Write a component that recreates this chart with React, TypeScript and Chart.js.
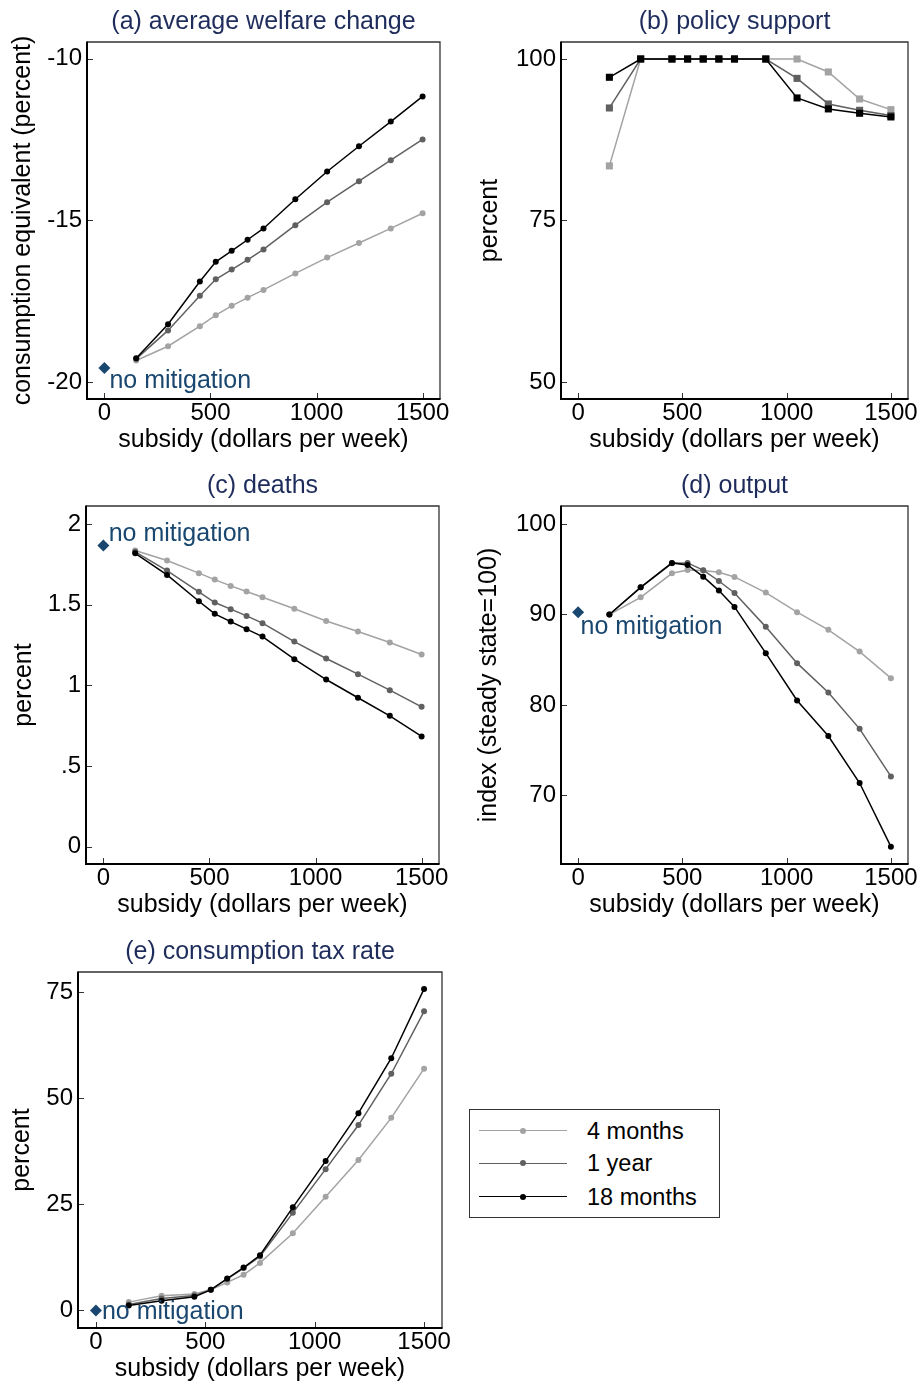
import React, { useEffect, useRef } from "react";
import { Chart, registerables } from "chart.js";

Chart.register(...registerables);

// ---------------- data ----------------
const SUBSIDY = [150, 300, 450, 525, 600, 675, 750, 900, 1050, 1200, 1350, 1500];
const X_TICKS = [0, 500, 1000, 1500];
const SERIES_LABELS = ["4 months", "1 year", "18 months"];
const NO_MIT_X = 0;
const NO_MIT_LABEL = "no mitigation";

const WELFARE_4M = [-19.33, -18.89, -18.27, -17.93, -17.64, -17.39, -17.15, -16.64, -16.15, -15.7, -15.25, -14.78];
const WELFARE_1Y = [-19.28, -18.4, -17.33, -16.82, -16.52, -16.22, -15.9, -15.15, -14.44, -13.79, -13.14, -12.5];
const WELFARE_18M = [-19.26, -18.21, -16.89, -16.28, -15.94, -15.6, -15.25, -14.35, -13.49, -12.71, -11.95, -11.17];
const WELFARE_NO_MIT = -19.56;
const WELFARE_TICKS = [-20, -15, -10];

const SUPPORT_4M = [83.45, 100, 100, 100, 100, 100, 100, 100, 100, 97.99, 93.81, 92.16];
const SUPPORT_1Y = [92.42, 100, 100, 100, 100, 100, 100, 100, 97.0, 93.04, 92.06, 91.24];
const SUPPORT_18M = [97.17, 100, 100, 100, 100, 100, 100, 100, 93.97, 92.27, 91.6, 91.03];
const SUPPORT_TICKS = [50, 75, 100];

const DEATHS_4M = [1.835, 1.773, 1.695, 1.655, 1.616, 1.581, 1.546, 1.474, 1.399, 1.333, 1.265, 1.191];
const DEATHS_1Y = [1.827, 1.711, 1.579, 1.513, 1.472, 1.43, 1.385, 1.271, 1.166, 1.069, 0.97, 0.867];
const DEATHS_18M = [1.818, 1.684, 1.521, 1.443, 1.395, 1.348, 1.302, 1.162, 1.036, 0.923, 0.811, 0.683];
const DEATHS_NO_MIT = 1.866;
const DEATHS_TICKS = [0, 0.5, 1, 1.5, 2];

const OUTPUT_4M = [90.0, 91.9, 94.55, 94.92, 94.85, 94.66, 94.15, 92.42, 90.25, 88.3, 85.9, 82.96];
const OUTPUT_1Y = [90.0, 93.0, 95.65, 95.7, 94.9, 93.7, 92.38, 88.63, 84.62, 81.38, 77.36, 72.1];
const OUTPUT_18M = [90.0, 93.0, 95.7, 95.47, 94.18, 92.64, 90.84, 85.72, 80.49, 76.56, 71.37, 64.34];
const OUTPUT_NO_MIT = 90.25;
const OUTPUT_TICKS = [70, 80, 90, 100];

const TAX_4M = [1.96, 3.45, 3.9, 4.86, 6.6, 8.4, 11.2, 18.2, 26.8, 35.45, 45.4, 57.0];
const TAX_1Y = [1.4, 2.8, 3.5, 4.9, 7.4, 10.0, 12.7, 23.0, 33.3, 43.7, 55.8, 70.5];
const TAX_18M = [1.18, 2.27, 3.2, 4.86, 7.53, 10.1, 13.0, 24.3, 35.2, 46.5, 59.45, 75.8];
const TAX_NO_MIT = 0;
const TAX_TICKS = [0, 25, 50, 75];

// ---------------- styles ----------------
const FONT = "'Liberation Sans', Arial, Helvetica, sans-serif";
const SERIES_COLORS = ["#a3a3a3", "#606060", "#000000"];
const NAVY = "#1a476f";
const TITLE_COLOR = "#1e2c5c";
const X_TITLE = "subsidy (dollars per week)";
const X_MIN = -82;
const X_MAX = 1582;
const TITLE_SIZE = 25;
const AXIS_TITLE_SIZE = 25;
const TICK_SIZE = 24;
const NOTE_SIZE = 25;

type PanelCfg = {
  title: string;
  yTitle: string;
  series: number[][];
  noMit: number | null;
  yTicks: number[];
  yMin: number;
  yMax: number;
  pointStyle: string;
  canvas: { x: number; y: number; w: number; h: number };
  box: { l: number; t: number; r: number; b: number };
  yTitleOffset: number;
  labelDx: number;
  labelDy: number;
};

const PANELS: PanelCfg[] = [
  {
    title: "(a) average welfare change",
    yTitle: "consumption equivalent (percent)",
    series: [WELFARE_4M, WELFARE_1Y, WELFARE_18M],
    noMit: WELFARE_NO_MIT,
    yTicks: WELFARE_TICKS,
    yMin: -20.52,
    yMax: -9.49,
    pointStyle: "circle",
    canvas: { x: 0, y: 0, w: 460, h: 460 },
    box: { l: 87, t: 42, r: 440, b: 399 },
    yTitleOffset: 10.8,
    labelDx: 5,
    labelDy: 20,
  },
  {
    title: "(b) policy support",
    yTitle: "percent",
    series: [SUPPORT_4M, SUPPORT_1Y, SUPPORT_18M],
    noMit: null,
    yTicks: SUPPORT_TICKS,
    yMin: 47.37,
    yMax: 102.63,
    pointStyle: "rect",
    canvas: { x: 460, y: 0, w: 460, h: 460 },
    box: { l: 561, t: 42, r: 908, b: 399 },
    yTitleOffset: 17.5,
    labelDx: 0,
    labelDy: 0,
  },
  {
    title: "(c) deaths",
    yTitle: "percent",
    series: [DEATHS_4M, DEATHS_1Y, DEATHS_18M],
    noMit: DEATHS_NO_MIT,
    yTicks: DEATHS_TICKS,
    yMin: -0.107,
    yMax: 2.111,
    pointStyle: "circle",
    canvas: { x: 0, y: 460, w: 460, h: 470 },
    box: { l: 86, t: 506, r: 439, b: 864 },
    yTitleOffset: 11.5,
    labelDx: 5.3,
    labelDy: -5,
  },
  {
    title: "(d) output",
    yTitle: "index (steady state=100)",
    series: [OUTPUT_4M, OUTPUT_1Y, OUTPUT_18M],
    noMit: OUTPUT_NO_MIT,
    yTicks: OUTPUT_TICKS,
    yMin: 62.42,
    yMax: 101.99,
    pointStyle: "circle",
    canvas: { x: 460, y: 460, w: 460, h: 470 },
    box: { l: 561, t: 506, r: 908, b: 864 },
    yTitleOffset: 16.8,
    labelDx: 2.5,
    labelDy: 22,
  },
  {
    title: "(e) consumption tax rate",
    yTitle: "percent",
    series: [TAX_4M, TAX_1Y, TAX_18M],
    noMit: TAX_NO_MIT,
    yTicks: TAX_TICKS,
    yMin: -4.14,
    yMax: 79.78,
    pointStyle: "circle",
    canvas: { x: 0, y: 930, w: 460, h: 452 },
    box: { l: 78, t: 972, r: 442, b: 1328 },
    yTitleOffset: 9.2,
    labelDx: 6,
    labelDy: 8.5,
  },
];

const TITLE_BLOCK = TITLE_SIZE * 1.2 + 4.5; // title line + bottom padding
const X_SCALE_H = 54;

function fmtTick(v: number): string {
  return String(v).replace(/^0\./, ".").replace(/^-0\./, "-.");
}

const framePlugin = {
  id: "frame",
  afterDraw(chart: any) {
    const { ctx, chartArea, scales } = chart;
    const { left, top, right, bottom } = chartArea;
    ctx.save();
    ctx.strokeStyle = "#333";
    ctx.lineWidth = 1;
    ctx.beginPath();
    scales.x.ticks.forEach((t: any) => {
      const px = Math.round(scales.x.getPixelForValue(t.value)) + 0.5;
      ctx.moveTo(px, bottom);
      ctx.lineTo(px, bottom - 6);
    });
    scales.y.ticks.forEach((t: any) => {
      const py = Math.round(scales.y.getPixelForValue(t.value)) + 0.5;
      ctx.moveTo(left, py);
      ctx.lineTo(left + 6, py);
    });
    ctx.stroke();
    ctx.strokeStyle = "#333";
    ctx.lineWidth = 1.3;
    ctx.beginPath();
    ctx.moveTo(left, top);
    ctx.lineTo(right, top);
    ctx.lineTo(right, bottom);
    ctx.stroke();
    ctx.strokeStyle = "#000";
    ctx.lineWidth = 2;
    ctx.beginPath();
    ctx.moveTo(left, top - 0.6);
    ctx.lineTo(left, bottom);
    ctx.lineTo(right + 0.6, bottom);
    ctx.stroke();
    ctx.restore();
  },
};

function makeAnnotationPlugin(cfg: PanelCfg) {
  return {
    id: "noMitLabel",
    afterDatasetsDraw(chart: any) {
      if (cfg.noMit === null) return;
      const idx = chart.data.datasets.findIndex((d: any) => d.label === NO_MIT_LABEL);
      if (idx < 0) return;
      const el = chart.getDatasetMeta(idx).data[0];
      if (!el) return;
      const { ctx } = chart;
      ctx.save();
      ctx.font = `${NOTE_SIZE}px ${FONT}`;
      ctx.fillStyle = NAVY;
      ctx.textAlign = "left";
      ctx.textBaseline = "alphabetic";
      ctx.fillText(NO_MIT_LABEL, el.x + cfg.labelDx, el.y + cfg.labelDy);
      ctx.restore();
    },
  };
}

function buildConfig(cfg: PanelCfg): any {
  const c = cfg.canvas;
  const padLeft = 0;
  const yWidth = cfg.box.l - c.x - padLeft;
  const padRight = c.x + c.w - cfg.box.r;
  const padTop = cfg.box.t - c.y - TITLE_BLOCK;
  const padBottom = c.y + c.h - cfg.box.b - X_SCALE_H;
  const isRect = cfg.pointStyle === "rect";

  const datasets: any[] = cfg.series.map((arr, i) => ({
    label: SERIES_LABELS[i],
    data: SUBSIDY.map((x, j) => ({ x, y: arr[j] })),
    borderColor: SERIES_COLORS[i],
    backgroundColor: SERIES_COLORS[i],
    pointBackgroundColor: SERIES_COLORS[i],
    borderWidth: 1.5,
    pointRadius: isRect ? 5 : 3,
    pointStyle: cfg.pointStyle,
    pointBorderWidth: 0,
    tension: 0,
    order: 2 - i,
  }));
  if (cfg.noMit !== null) {
    datasets.push({
      label: NO_MIT_LABEL,
      data: [{ x: NO_MIT_X, y: cfg.noMit }],
      showLine: false,
      pointStyle: "rectRot",
      pointRadius: 6,
      pointBorderWidth: 0,
      backgroundColor: NAVY,
      pointBackgroundColor: NAVY,
      borderColor: NAVY,
      order: -1,
    });
  }

  const tickFont = { family: FONT, size: TICK_SIZE, lineHeight: 1.2 };
  const axisTitleFont = { family: FONT, size: AXIS_TITLE_SIZE, lineHeight: 1.0 };

  return {
    type: "line",
    data: { datasets },
    options: {
      responsive: false,
      animation: false,
      devicePixelRatio: 1,
      layout: { padding: { left: padLeft, right: padRight, top: padTop, bottom: padBottom } },
      plugins: {
        legend: { display: false },
        tooltip: { enabled: false },
        title: {
          display: true,
          text: cfg.title,
          fullSize: false,
          color: TITLE_COLOR,
          font: { family: FONT, size: TITLE_SIZE, lineHeight: 1.2, weight: "normal" },
          padding: { top: 0, bottom: 4.5 },
        },
      },
      scales: {
        x: {
          type: "linear",
          min: X_MIN,
          max: X_MAX,
          afterBuildTicks: (s: any) => {
            s.ticks = X_TICKS.map((v) => ({ value: v }));
          },
          afterFit: (s: any) => {
            s.height = X_SCALE_H;
          },
          grid: { display: false, drawTicks: false },
          border: { display: false },
          ticks: {
            font: tickFont,
            color: "#000",
            padding: 0,
            maxRotation: 0,
            autoSkip: false,
            callback: (v: any) => fmtTick(Number(v)),
          },
          title: {
            display: true,
            text: X_TITLE,
            color: "#000",
            font: axisTitleFont,
            padding: { top: 0, bottom: 0.5 },
          },
        },
        y: {
          type: "linear",
          min: cfg.yMin,
          max: cfg.yMax,
          afterBuildTicks: (s: any) => {
            s.ticks = cfg.yTicks.map((v) => ({ value: v }));
          },
          afterFit: (s: any) => {
            s.width = yWidth;
          },
          grid: { display: false, drawTicks: false },
          border: { display: false },
          ticks: {
            font: tickFont,
            color: "#000",
            padding: 5,
            autoSkip: false,
            callback: (v: any) => fmtTick(Number(v)),
          },
          title: {
            display: true,
            text: cfg.yTitle,
            color: "#000",
            font: axisTitleFont,
            padding: { top: cfg.yTitleOffset, bottom: 0 },
          },
        },
      },
    },
    plugins: [framePlugin, makeAnnotationPlugin(cfg)],
  };
}

function Panel({ cfg }: { cfg: PanelCfg }) {
  const ref = useRef<HTMLCanvasElement | null>(null);
  useEffect(() => {
    if (!ref.current) return;
    const chart = new Chart(ref.current, buildConfig(cfg));
    return () => chart.destroy();
  }, [cfg]);
  const c = cfg.canvas;
  return (
    <canvas
      ref={ref}
      width={c.w}
      height={c.h}
      style={{ position: "absolute", left: c.x, top: c.y, width: c.w, height: c.h, display: "block" }}
    />
  );
}

const LEGEND_BOX = { x: 469, y: 1109, w: 251, h: 109 };
const LEGEND_ROWS = [21.7, 54.3, 87.7];

function Legend() {
  return (
    <div
      style={{
        position: "absolute",
        left: LEGEND_BOX.x,
        top: LEGEND_BOX.y,
        width: LEGEND_BOX.w,
        height: LEGEND_BOX.h,
        border: "1.3px solid #333",
        boxSizing: "border-box",
        background: "#fff",
        fontFamily: FONT,
      }}
    >
      {SERIES_LABELS.map((lab, i) => (
        <React.Fragment key={lab}>
          <div
            style={{
              position: "absolute",
              left: 9,
              top: LEGEND_ROWS[i] - 0.75 - 1,
              width: 88,
              height: 1.5,
              background: SERIES_COLORS[i],
            }}
          />
          <div
            style={{
              position: "absolute",
              left: 53.7 - 3 - 1,
              top: LEGEND_ROWS[i] - 3 - 1,
              width: 6,
              height: 6,
              borderRadius: 3,
              background: SERIES_COLORS[i],
            }}
          />
          <div
            style={{
              position: "absolute",
              left: 117,
              top: LEGEND_ROWS[i] - 14 - 1,
              height: 28,
              lineHeight: "28px",
              fontSize: 23.5,
              color: "#000",
              whiteSpace: "nowrap",
            }}
          >
            {lab}
          </div>
        </React.Fragment>
      ))}
    </div>
  );
}

export default function App() {
  return (
    <div style={{ position: "absolute", left: 0, top: 0, width: 920, height: 1382, background: "#fff", overflow: "hidden" }}>
      {PANELS.map((p) => (
        <Panel key={p.title} cfg={p} />
      ))}
      <Legend />
    </div>
  );
}
